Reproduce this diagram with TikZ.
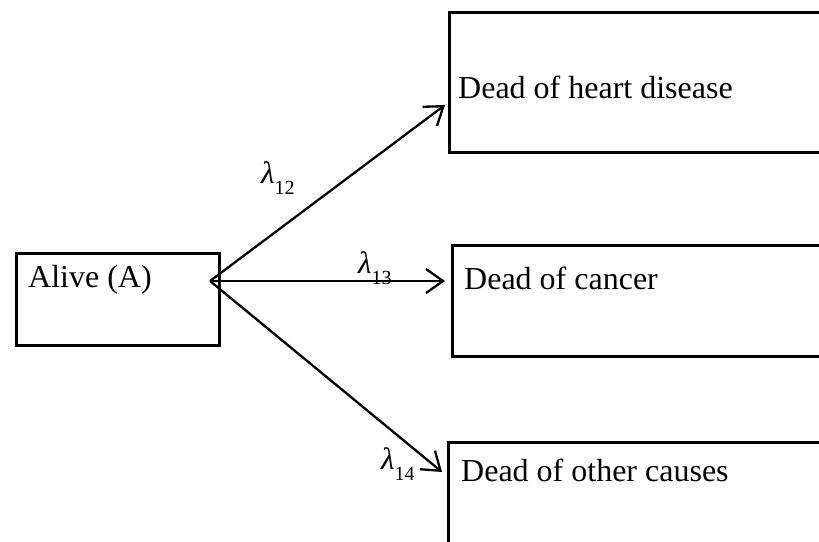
\documentclass[tikz,border=0pt]{standalone}
\usepackage{fontspec}
\setmainfont{Liberation Serif}
\usetikzlibrary{arrows.meta}
\newcommand{\lamsub}[1]{{\fontsize{31}{31}\selectfont\itshape λ}\raisebox{-11pt}{\fontsize{20}{20}\selectfont #1}}
\begin{document}
\begin{tikzpicture}[x=1pt,y=-1pt,
  box/.style={draw=black,line width=2.6pt,rectangle,inner sep=0pt,anchor=north west},
  lbl/.style={anchor=base west,inner sep=0pt,font=\fontsize{32}{38}\selectfont},
  rate/.style={anchor=base west,inner sep=0pt},
  flow/.style={line width=2.3pt,-{Straight Barb[length=17pt,width=24pt,line width=2.3pt]}}]
\useasboundingbox (0,0) rectangle (819,541);
\fill[white] (0,0) rectangle (819,541);
\clip (0,0) rectangle (819,541);
% boxes
\node[box,minimum width=203pt,minimum height=92pt] (alive) at (15,252) {};
\node[box,minimum width=420pt,minimum height=140pt] (heart) at (448,11) {};
\node[box,minimum width=420pt,minimum height=111pt] (cancer) at (451,244) {};
\node[box,minimum width=420pt,minimum height=130pt] (other) at (447,441) {};
% texts
\node[lbl] (talive) at (28,287) {Alive (A)};
\node[lbl] (theart) at (458,98) {Dead of heart disease};
\node[lbl] (tcancer) at (464,289) {Dead of cancer};
\node[lbl] (tother) at (461,481) {Dead of other causes};
% connector ends
\coordinate (src) at (210,281);
\coordinate (tip1) at (445,105);
\coordinate (tip2) at (445,281);
\coordinate (tip3) at (442,472);
\draw[flow] (src) -- (tip1);
\draw[flow] (src) -- (tip2);
\draw[flow] (src) -- (tip3);
% rates
\node[rate] (l12) at (261,183) {\lamsub{12}};
\node[rate] (l13) at (358,273) {\lamsub{13}};
\node[rate] (l14) at (381,469) {\lamsub{14}};
\end{tikzpicture}
\end{document}
